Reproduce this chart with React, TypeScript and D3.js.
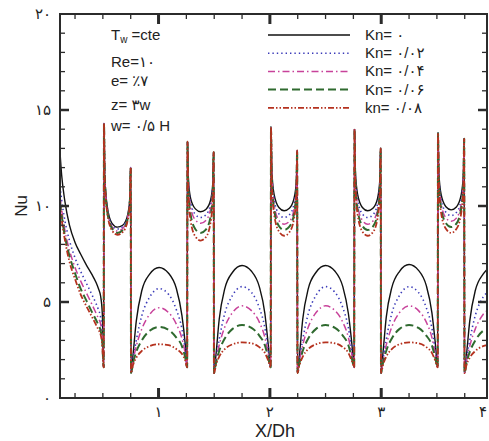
import React from 'react';
import * as d3 from 'd3';

const W = 489;
const H = 441;
const PL = 60, PR = 487, PT = 14, PB = 398;

// x positions (X/Dh) of sampled points, shared by all series
const xVals = [
  0.115, 0.13, 0.16, 0.20, 0.25, 0.30, 0.35, 0.40, 0.44, 0.46, 0.48, 0.495, 0.507,
  0.51, 0.517, 0.539, 0.582, 0.63, 0.678, 0.721, 0.743, 0.75, 0.753,
  0.77, 0.80, 0.85, 0.92, 1.005, 1.09, 1.16, 1.21, 1.24, 1.257,
  1.26, 1.267, 1.288, 1.331, 1.378, 1.425, 1.467, 1.488, 1.495, 1.498,
  1.515, 1.545, 1.595, 1.665, 1.75, 1.835, 1.905, 1.955, 1.985, 2.007,
  2.01, 2.017, 2.038, 2.081, 2.128, 2.175, 2.217, 2.238, 2.245, 2.248,
  2.265, 2.295, 2.345, 2.415, 2.50, 2.585, 2.655, 2.705, 2.735, 2.757,
  2.76, 2.767, 2.788, 2.831, 2.878, 2.925, 2.967, 2.988, 2.995, 2.998,
  3.015, 3.045, 3.095, 3.165, 3.25, 3.335, 3.405, 3.455, 3.485, 3.507,
  3.51, 3.517, 3.538, 3.581, 3.628, 3.675, 3.717, 3.738, 3.745, 3.748,
  3.765, 3.795, 3.845, 3.915, 3.95,
];

const nuKn0 = [
  12.8, 11.6, 10.2, 9.0, 8.1, 7.5, 6.95, 6.45, 6.0, 5.7, 5.3, 4.4, 1.6,
  14.3, 11.6, 10.0, 9.1, 8.9, 9.0, 9.5, 10.45, 12.0, 1.3,
  2.2, 4.0, 5.6, 6.45, 6.8, 6.5, 5.7, 4.3, 2.8, 1.6,
  13.35, 11.5, 10.4, 9.85, 9.7, 9.82, 10.3, 11.25, 12.8, 1.3,
  2.2, 4.1, 5.7, 6.55, 6.9, 6.6, 5.8, 4.4, 2.8, 1.6,
  14.1, 11.9, 10.6, 9.92, 9.75, 9.88, 10.4, 11.3, 12.9, 1.3,
  2.2, 4.1, 5.7, 6.55, 6.9, 6.6, 5.8, 4.4, 2.9, 1.6,
  14.0, 11.9, 10.6, 9.92, 9.75, 9.88, 10.4, 11.4, 13.0, 1.3,
  2.3, 4.2, 5.75, 6.6, 6.95, 6.65, 5.85, 4.45, 2.9, 1.6,
  13.8, 11.8, 10.6, 9.96, 9.8, 9.95, 10.55, 11.65, 13.5, 1.3,
  2.2, 4.0, 5.6, 6.45, 6.7,
];

const nuKn002 = [
  11.0, 10.3, 9.2, 8.2, 7.3, 6.6, 6.0, 5.4, 4.9, 4.6, 4.2, 3.4, 1.6,
  14.3, 11.55, 9.9, 9.0, 8.8, 8.93, 9.44, 10.4, 12.0, 1.3,
  2.0, 3.0, 4.3, 5.25, 5.7, 5.4, 4.6, 3.6, 2.5, 1.6,
  13.35, 11.38, 10.19, 9.56, 9.4, 9.54, 10.08, 11.1, 12.8, 1.3,
  2.0, 3.05, 4.4, 5.35, 5.8, 5.5, 4.7, 3.65, 2.5, 1.6,
  14.1, 11.75, 10.34, 9.59, 9.4, 9.54, 10.1, 11.15, 12.9, 1.3,
  2.0, 3.05, 4.4, 5.35, 5.8, 5.5, 4.7, 3.65, 2.5, 1.6,
  14.0, 11.7, 10.32, 9.58, 9.4, 9.54, 10.12, 11.2, 13.0, 1.3,
  2.0, 3.05, 4.4, 5.35, 5.8, 5.5, 4.7, 3.65, 2.5, 1.6,
  13.8, 11.65, 10.36, 9.67, 9.5, 9.66, 10.3, 11.5, 13.5, 1.3,
  2.0, 3.0, 4.3, 5.25, 5.5,
];

const nuKn004 = [
  10.5, 9.8, 8.7, 7.7, 6.8, 6.1, 5.5, 4.9, 4.4, 4.15, 3.85, 3.2, 1.6,
  14.3, 11.5, 9.82, 8.92, 8.7, 8.83, 9.36, 10.35, 12.0, 1.3,
  1.9, 2.7, 3.6, 4.35, 4.7, 4.45, 3.85, 3.1, 2.3, 1.6,
  13.35, 11.22, 9.95, 9.27, 9.1, 9.25, 9.84, 10.95, 12.8, 1.3,
  1.9, 2.75, 3.7, 4.45, 4.8, 4.55, 3.95, 3.15, 2.3, 1.6,
  14.1, 11.58, 10.06, 9.25, 9.05, 9.2, 9.82, 10.98, 12.9, 1.3,
  1.9, 2.75, 3.7, 4.45, 4.8, 4.55, 3.95, 3.15, 2.3, 1.6,
  14.0, 11.53, 10.04, 9.25, 9.05, 9.21, 9.84, 11.03, 13.0, 1.3,
  1.9, 2.75, 3.7, 4.45, 4.8, 4.55, 3.95, 3.15, 2.3, 1.6,
  13.8, 11.5, 10.12, 9.38, 9.2, 9.37, 10.06, 11.35, 13.5, 1.3,
  1.9, 2.7, 3.6, 4.35, 4.55,
];

const nuKn006 = [
  10.2, 9.5, 8.4, 7.4, 6.5, 5.7, 5.1, 4.5, 4.05, 3.8, 3.5, 2.9, 1.6,
  14.3, 11.45, 9.74, 8.83, 8.6, 8.74, 9.28, 10.3, 12.0, 1.3,
  1.8, 2.4, 3.0, 3.5, 3.7, 3.55, 3.15, 2.7, 2.1, 1.6,
  13.35, 10.98, 9.55, 8.79, 8.6, 8.77, 9.44, 10.7, 12.8, 1.3,
  1.8, 2.45, 3.1, 3.6, 3.8, 3.65, 3.25, 2.75, 2.1, 1.6,
  14.1, 11.43, 9.82, 8.96, 8.75, 8.92, 9.58, 10.83, 12.9, 1.3,
  1.8, 2.45, 3.1, 3.6, 3.8, 3.65, 3.25, 2.75, 2.1, 1.6,
  14.0, 11.38, 9.8, 8.96, 8.75, 8.92, 9.6, 10.88, 13.0, 1.3,
  1.8, 2.45, 3.1, 3.6, 3.8, 3.65, 3.25, 2.75, 2.1, 1.6,
  13.8, 11.35, 9.88, 9.1, 8.9, 9.08, 9.82, 11.2, 13.5, 1.3,
  1.8, 2.4, 3.0, 3.5, 3.6,
];

const nuKn008 = [
  10.0, 9.3, 8.2, 7.1, 6.2, 5.4, 4.8, 4.25, 3.8, 3.55, 3.3, 2.7, 1.6,
  14.3, 11.4, 9.66, 8.73, 8.5, 8.64, 9.2, 10.25, 12.0, 1.3,
  1.7, 2.1, 2.45, 2.7, 2.8, 2.75, 2.55, 2.3, 1.95, 1.6,
  13.35, 10.78, 9.23, 8.41, 8.2, 8.38, 9.12, 10.5, 12.8, 1.3,
  1.7, 2.15, 2.55, 2.8, 2.9, 2.85, 2.65, 2.35, 1.95, 1.6,
  14.1, 11.28, 9.58, 8.68, 8.45, 8.63, 9.34, 10.68, 12.9, 1.3,
  1.7, 2.15, 2.55, 2.8, 2.9, 2.85, 2.65, 2.35, 1.95, 1.6,
  14.0, 11.23, 9.56, 8.67, 8.45, 8.63, 9.36, 10.73, 13.0, 1.3,
  1.7, 2.15, 2.55, 2.8, 2.9, 2.85, 2.65, 2.35, 1.95, 1.6,
  13.8, 11.2, 9.64, 8.81, 8.6, 8.8, 9.58, 11.05, 13.5, 1.3,
  1.7, 2.1, 2.45, 2.7, 2.75,
];

const seriesLabels = ['Kn= ۰', 'Kn= ۰/۰۲', 'Kn= ۰/۰۴', 'Kn= ۰/۰۶', 'kn= ۰/۰۸'];
const seriesValues = [nuKn0, nuKn002, nuKn004, nuKn006, nuKn008];
const seriesColors = ['#111111', '#3a3ab8', '#c8429a', '#2f6a2f', '#b5321f'];
const seriesDash = ['none', '1.4 3', '7 3 1.5 3', '8 4', '6 2 1.5 2 1.5 2'];
const seriesWidth = [1.4, 1.6, 1.5, 2, 1.8];

const yTickValues = [0, 5, 10, 15, 20];
const yTickLabels = ['۰', '۵', '۱۰', '۱۵', '۲۰'];
const xTickValues = [1, 2, 3, 4];
const xTickLabels = ['۱', '۲', '۳', '۴'];

const annotations = ['Re=۱۰', 'e= ٪۷', 'z= ۳w', 'w= ۰/۵ H'];

const FONT = "'Liberation Sans', Arial, 'DejaVu Sans', sans-serif";

export default function App() {
  const x = d3.scaleLinear().domain([0.115, 3.95]).range([PL, PR]);
  const y = d3.scaleLinear().domain([0, 20]).range([PB, PT]);

  const line = d3
    .line<number>()
    .x((_, i) => x(xVals[i]))
    .y((d) => y(d))
    .curve(d3.curveMonotoneX);

  const minorX = d3.range(0.25, 3.96, 0.25).filter((v) => Math.abs(v - Math.round(v)) > 1e-6);
  const majorX = [1, 2, 3];
  const minorY = d3.range(1, 20, 1).filter((v) => v % 5 !== 0);
  const axisColor = '#2b2b2b';

  const legendY = (i: number) => 35 + i * 18.2;

  return (
    <svg
      width={W}
      height={H}
      style={{ position: 'absolute', left: 0, top: 0, background: '#fff' }}
      fontFamily={FONT}
    >
      <rect x={0} y={0} width={W} height={H} fill="#fff" />
      <defs>
        <clipPath id="plotClip">
          <rect x={PL} y={PT} width={PR - PL} height={PB - PT} />
        </clipPath>
      </defs>

      {/* curves */}
      <g clipPath="url(#plotClip)">
        {seriesValues.map((vals, i) => (
          <path
            key={i}
            d={line(vals) || ''}
            fill="none"
            stroke={seriesColors[i]}
            strokeWidth={seriesWidth[i]}
            strokeDasharray={seriesDash[i]}
            strokeLinejoin="round"
          />
        ))}
      </g>

      {/* frame */}
      <rect x={PL} y={PT} width={PR - PL} height={PB - PT} fill="none" stroke={axisColor} strokeWidth={2} />

      {/* x ticks bottom & top */}
      {minorX.map((v) => (
        <g key={'mx' + v}>
          <line x1={x(v)} x2={x(v)} y1={PB} y2={PB - 5} stroke={axisColor} strokeWidth={1.3} />
          <line x1={x(v)} x2={x(v)} y1={PT} y2={PT + 5} stroke={axisColor} strokeWidth={1.3} />
        </g>
      ))}
      {majorX.map((v) => (
        <g key={'Mx' + v}>
          <line x1={x(v)} x2={x(v)} y1={PB} y2={PB - 10} stroke={axisColor} strokeWidth={3} />
          <line x1={x(v)} x2={x(v)} y1={PT} y2={PT + 10} stroke={axisColor} strokeWidth={3} />
        </g>
      ))}
      {/* y ticks left & right */}
      {minorY.map((v) => (
        <g key={'my' + v}>
          <line x1={PL} x2={PL + 5} y1={y(v)} y2={y(v)} stroke={axisColor} strokeWidth={1.3} />
          <line x1={PR} x2={PR - 5} y1={y(v)} y2={y(v)} stroke={axisColor} strokeWidth={1.3} />
        </g>
      ))}
      {yTickValues.slice(1, 4).map((v) => (
        <g key={'My' + v}>
          <line x1={PL} x2={PL + 9} y1={y(v)} y2={y(v)} stroke={axisColor} strokeWidth={2.5} />
          <line x1={PR} x2={PR - 9} y1={y(v)} y2={y(v)} stroke={axisColor} strokeWidth={2.5} />
        </g>
      ))}

      {/* tick labels */}
      {yTickValues.map((v, i) => (
        <text key={'yl' + v} x={51} y={y(v) + 5} fontSize={15} textAnchor="end" fill="#222">
          {yTickLabels[i]}
        </text>
      ))}
      {xTickValues.map((v, i) => (
        <text
          key={'xl' + v}
          x={Math.min(x(v), W - 6)}
          y={417}
          fontSize={15}
          textAnchor="middle"
          fill="#222"
        >
          {xTickLabels[i]}
        </text>
      ))}

      {/* axis titles */}
      <text x={275} y={437} fontSize={18} textAnchor="middle" fill="#222">
        X/Dh
      </text>
      <text
        transform={`translate(27, 206) rotate(-90)`}
        fontSize={17}
        textAnchor="middle"
        fill="#222"
      >
        Nu
      </text>

      {/* annotations */}
      <text x={111} y={40} fontSize={15} fill="#222">
        T<tspan fontSize={10} dy={3}>w</tspan>
        <tspan dy={-3}> =cte</tspan>
      </text>
      {annotations.map((a, i) => (
        <text key={a} x={111} y={[67, 86, 110, 131][i]} fontSize={15} fill="#222">
          {a}
        </text>
      ))}

      {/* legend */}
      {seriesLabels.map((lab, i) => (
        <g key={lab}>
          <line
            x1={268}
            x2={350}
            y1={legendY(i)}
            y2={legendY(i)}
            stroke={seriesColors[i]}
            strokeWidth={seriesWidth[i]}
            strokeDasharray={seriesDash[i]}
          />
          <text x={365} y={legendY(i) + 5} fontSize={15} fill="#222">
            {lab}
          </text>
        </g>
      ))}
    </svg>
  );
}
